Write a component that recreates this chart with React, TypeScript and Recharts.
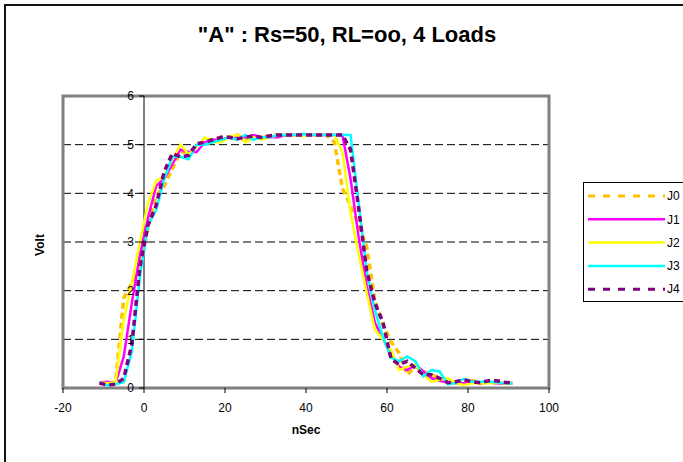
import React from "react";
import { LineChart, Line, XAxis, YAxis, CartesianGrid, ReferenceLine, ReferenceArea } from "recharts";

// ---- data ----
const times = [-11, -9, -7, -5, -3, -1, 1, 3, 5, 7, 9, 11, 13, 15, 17, 19, 21, 23, 25, 27, 29, 31, 33, 35, 37, 39, 41, 43, 45, 47, 49, 51, 53, 55, 57, 59, 61, 63, 65, 67, 69, 71, 73, 75, 77, 79, 81, 83, 85, 87, 89, 91];

const j0 = [0.1, 0.1, 0.12, 1.85, 2.15, 2.45, 3.3, 3.95, 4.15, 4.5, 4.85, 4.85, 4.95, 5.1, 5.1, 5.15, 5.15, 5.2, 5.1, 5.15, 5.15, 5.18, 5.2, 5.2, 5.2, 5.2, 5.2, 5.2, 5.2, 5.05, 4.1, 3.75, 3.35, 2.9, 1.8, 1.3, 0.95, 0.72, 0.27, 0.44, 0.34, 0.27, 0.2, 0.12, 0.12, 0.08, 0.15, 0.1, 0.12, 0.1, 0.1, 0.1];
const j1 = [0.12, 0.13, 0.1, 0.65, 1.75, 2.75, 3.5, 4.15, 4.3, 4.6, 4.9, 4.85, 4.85, 5.05, 5.1, 5.1, 5.15, 5.15, 5.15, 5.2, 5.15, 5.15, 5.15, 5.2, 5.2, 5.2, 5.2, 5.2, 5.2, 5.2, 5.2, 4.3, 3.1, 2.1, 1.35, 1.0, 0.72, 0.44, 0.37, 0.48, 0.34, 0.2, 0.15, 0.12, 0.1, 0.1, 0.13, 0.1, 0.13, 0.1, 0.1, 0.1];
const j2 = [0.12, 0.1, 0.12, 1.4, 2.15, 3.0, 3.8, 4.25, 4.35, 4.7, 5.0, 4.8, 4.95, 5.15, 5.05, 5.05, 5.15, 5.2, 5.05, 5.15, 5.1, 5.15, 5.2, 5.2, 5.2, 5.18, 5.2, 5.2, 5.2, 5.2, 4.85, 3.6, 2.75, 1.95, 1.2, 1.0, 0.78, 0.37, 0.44, 0.48, 0.27, 0.13, 0.17, 0.2, 0.1, 0.06, 0.1, 0.1, 0.1, 0.12, 0.1, 0.1];
const j3 = [0.12, 0.05, 0.08, 0.12, 0.75, 2.3, 3.35, 3.65, 4.3, 4.75, 4.75, 4.7, 5.0, 5.0, 5.05, 5.1, 5.15, 5.1, 5.2, 5.1, 5.15, 5.15, 5.2, 5.2, 5.2, 5.22, 5.2, 5.2, 5.2, 5.2, 5.2, 5.2, 3.8, 2.4, 1.6, 1.05, 0.62, 0.55, 0.65, 0.55, 0.24, 0.37, 0.34, 0.08, 0.1, 0.19, 0.13, 0.13, 0.13, 0.12, 0.1, 0.1];
const j4 = [0.1, 0.06, 0.08, 0.2, 0.9, 2.5, 3.35, 3.75, 4.45, 4.82, 4.75, 4.78, 5.02, 5.05, 5.1, 5.15, 5.15, 5.12, 5.15, 5.18, 5.15, 5.18, 5.2, 5.2, 5.2, 5.2, 5.2, 5.2, 5.2, 5.2, 5.2, 4.9, 3.7, 2.4, 1.75, 1.35, 0.6, 0.48, 0.55, 0.41, 0.27, 0.27, 0.2, 0.11, 0.13, 0.17, 0.13, 0.11, 0.15, 0.15, 0.12, 0.1];

const xTicks = [-20, 0, 20, 40, 60, 80, 100];
const yTicks = [0, 1, 2, 3, 4, 5, 6];

const seriesNames = ["J0", "J1", "J2", "J3", "J4"];
const seriesValues = [j0, j1, j2, j3, j4];

// ---- styles ----
const SERIES_STYLE: Record<string, { color: string; width: number; dash?: string; legendDash?: string }> = {
  J0: { color: "#FFC000", width: 3.5, dash: "6 4", legendDash: "7 8" },
  J1: { color: "#FF00FF", width: 2.5 },
  J2: { color: "#FFFF00", width: 2.5 },
  J3: { color: "#00FFFF", width: 2.5 },
  J4: { color: "#800080", width: 3.5, dash: "6 4", legendDash: "7 8" },
};

const FONT = '"Liberation Sans", Arial, sans-serif';
const W = 683;
const H = 462;
const PLOT_LEFT = 63;
const PLOT_TOP = 96;
const PLOT_RIGHT = 549;
const PLOT_BOTTOM = 388;
const X_AXIS_H = 30;
const Y_AXIS_W = 10;
const X_MIN = -20;
const X_MAX = 100;

const rows = times.map((t, i) => {
  const r: Record<string, number> = { t };
  seriesNames.forEach((n, k) => (r[n] = seriesValues[k][i]));
  return r;
});

const yAxisX = PLOT_LEFT + ((0 - X_MIN) / (X_MAX - X_MIN)) * (PLOT_RIGHT - PLOT_LEFT);

const YTick = (props: any) => {
  const { y, payload } = props;
  return (
    <g>
      <line x1={yAxisX - 5} x2={yAxisX} y1={y} y2={y} stroke="#000" strokeWidth={1} />
      <text x={yAxisX - 10} y={y} dy="0.35em" textAnchor="end" fontFamily={FONT} fontSize={12} fill="#000">
        {payload.value}
      </text>
    </g>
  );
};

export default function App() {
  return (
    <div style={{ position: "absolute", left: 0, top: 0, width: W, height: H, background: "#fff", overflow: "hidden" }}>
      <div style={{ position: "absolute", left: 4, top: 4, width: 720, height: 500, border: "2px solid #111", boxSizing: "border-box" }} />
      <div style={{ position: "absolute", left: 0, top: 0 }}>
        <LineChart
          width={W}
          height={H}
          data={rows}
          margin={{ top: PLOT_TOP, right: W - PLOT_RIGHT, bottom: H - PLOT_BOTTOM - X_AXIS_H, left: PLOT_LEFT - Y_AXIS_W }}
        >
          <CartesianGrid vertical={false} stroke="#000" strokeDasharray="8 4" />
          <XAxis
            dataKey="t"
            type="number"
            domain={[X_MIN, X_MAX]}
            ticks={xTicks}
            height={X_AXIS_H}
            axisLine={false}
            tickLine={{ stroke: "#000" }}
            tickSize={5}
            tickMargin={10}
            tick={{ fontFamily: FONT, fontSize: 12, fill: "#000" }}
            allowDataOverflow
          />
          <YAxis
            type="number"
            domain={[0, 6]}
            ticks={yTicks}
            width={Y_AXIS_W}
            axisLine={false}
            tickLine={false}
            tick={<YTick />}
            allowDataOverflow
          />
          <ReferenceArea x1={X_MIN} x2={X_MAX} y1={0} y2={6} fill="none" stroke="#808080" strokeWidth={3} ifOverflow="visible" />
          <ReferenceLine x={0} stroke="#000" strokeWidth={1} />
          {seriesNames.map((n) => {
            const s = SERIES_STYLE[n];
            return (
              <Line
                key={n}
                dataKey={n}
                type="linear"
                stroke={s.color}
                strokeWidth={s.width}
                strokeDasharray={s.dash}
                dot={false}
                activeDot={false}
                isAnimationActive={false}
              />
            );
          })}
        </LineChart>
      </div>
      <svg width={W} height={H} style={{ position: "absolute", left: 0, top: 0, pointerEvents: "none" }}>
        <text x={347} y={42} textAnchor="middle" fontFamily={FONT} fontWeight="bold" fontSize={22} fill="#000">
          "A" : Rs=50, RL=oo, 4 Loads
        </text>
        <text x={306} y={434} textAnchor="middle" fontFamily={FONT} fontWeight="bold" fontSize={12} fill="#000">
          nSec
        </text>
        <text
          x={44}
          y={245}
          textAnchor="middle"
          fontFamily={FONT}
          fontWeight="bold"
          fontSize={12}
          fill="#000"
          transform="rotate(-90 44 245)"
        >
          Volt
        </text>
      </svg>
      <div
        style={{
          position: "absolute",
          left: 583,
          top: 182,
          width: 120,
          height: 120,
          border: "1px solid #000",
          boxSizing: "border-box",
          background: "#fff",
        }}
      >
        <svg width={120} height={120} style={{ position: "absolute", left: 0, top: 0 }}>
          {seriesNames.map((n, i) => {
            const s = SERIES_STYLE[n];
            const y = 13 + i * 23.3;
            return (
              <g key={n}>
                <line x1={4} x2={81} y1={y} y2={y} stroke={s.color} strokeWidth={s.legendDash ? 3 : 2.5} strokeDasharray={s.legendDash} />
                <text x={83} y={y} dy="0.35em" fontFamily={FONT} fontSize={12} fill="#000">
                  {n}
                </text>
              </g>
            );
          })}
        </svg>
      </div>
    </div>
  );
}
